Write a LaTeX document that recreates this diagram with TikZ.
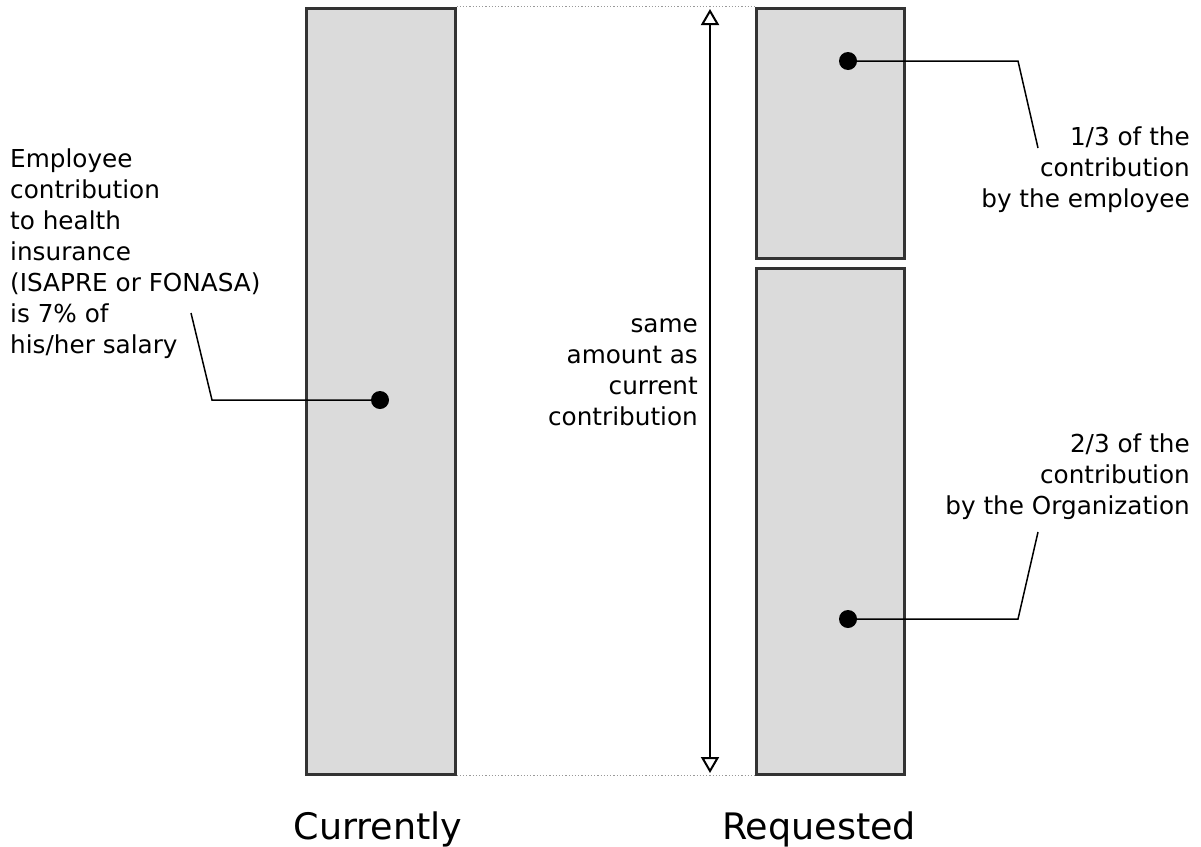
\documentclass[tikz,border=0pt]{standalone}
\usepackage{fontspec}
\setmainfont{DejaVu Sans}
\usepackage{tikz}
\usetikzlibrary{arrows.meta,positioning,calc}

\begin{document}
\begin{tikzpicture}[x=1pt, y=-1pt,
        bar/.style={rectangle, draw=black!80, fill=black!14, line width=3pt, inner sep=0pt},
        pin/.style={circle, fill=black, minimum size=18pt, inner sep=0pt},
        lead/.style={line width=1.5pt},
        guide/.style={black!40, dotted, line width=1.2pt},
        note/.style={inner sep=0pt, font=\fontsize{24.7}{31}\selectfont},
        title/.style={inner sep=0pt, font=\fontsize{36.5}{44}\selectfont},
        measure/.style={{Triangle[open, width=18pt, length=16pt]}-{Triangle[open, width=18pt, length=16pt]}, line width=2pt}
    ]
        \useasboundingbox (0,0) rectangle (1201,846);

        % Bars
        \node[bar, minimum width=149pt, minimum height=766pt] (cur) at (380.5,391) {};
        \node[bar, minimum width=148pt, minimum height=250pt] (emp) at (830,133) {};
        \node[bar, minimum width=148pt, minimum height=506pt] (org) at (830,521) {};

        % Guides between the bars
        \draw[guide] (cur.north east) -- (emp.north west);
        \draw[guide] (cur.south east) -- (org.south west);

        % Measure arrow
        \coordinate (mtop) at (710,9);
        \coordinate (mbot) at (710,773);
        \draw[measure] (mbot) -- (mtop);
        \node[note, anchor=north east, align=right] (same) at (698,318)
            {same\\amount as\\current\\contribution};

        % Pins
        \node[pin] (pcur) at (380,400) {};
        \node[pin] (pemp) at (848,61) {};
        \node[pin] (porg) at (848,619) {};

        % Notes
        \node[note, anchor=north west, align=left] (ncur) at (10,149)
            {Employee\\contribution\\to health\\insurance\\(ISAPRE or FONASA)\\is 7\% of\\his/her salary};
        \node[note, anchor=north east, align=right] (nemp) at (1190,127)
            {1/3 of the\\contribution\\by the employee};
        \node[note, anchor=north east, align=right] (norg) at (1190,434)
            {2/3 of the\\contribution\\by the Organization};

        % Leaders
        \coordinate (kcur) at (212,400);
        \coordinate (ecur) at (191,313);
        \coordinate (kemp) at (1018,61);
        \coordinate (eemp) at (1038,148);
        \coordinate (korg) at (1018,619);
        \coordinate (eorg) at (1038,532);
        \draw[lead] (pcur) -- (kcur) -- (ecur);
        \draw[lead] (pemp) -- (kemp) -- (eemp);
        \draw[lead] (porg) -- (korg) -- (eorg);

        % Labels
        \node[title, anchor=base] (lcur) at (378,839) {Currently};
        \node[title, anchor=base] (lreq) at (819,839) {Requested};
    \end{tikzpicture}
\end{document}
